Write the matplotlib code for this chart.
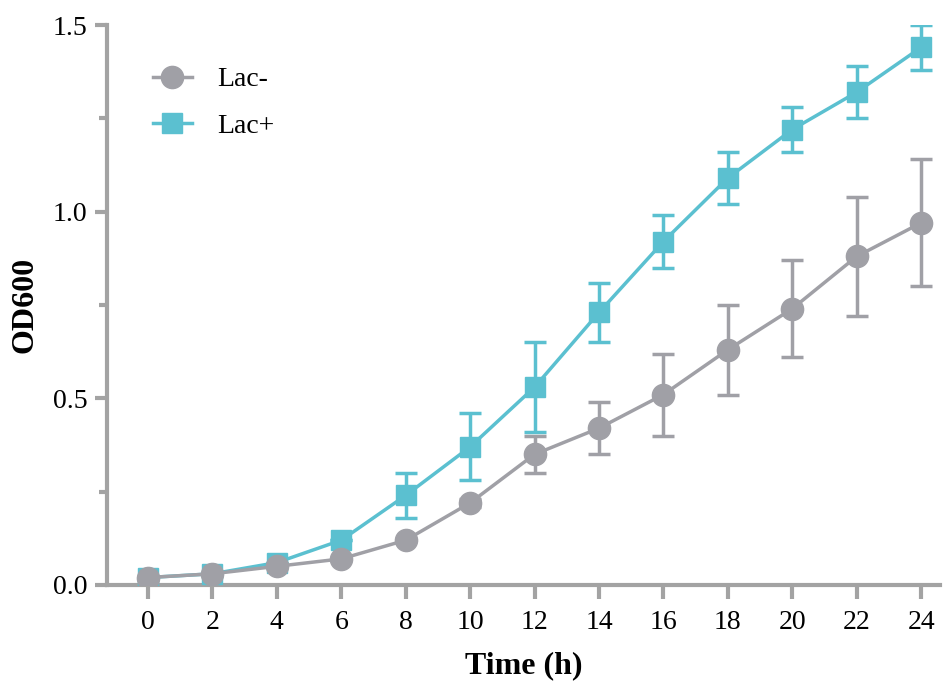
import numpy as np
import matplotlib.pyplot as plt
from matplotlib.lines import Line2D
from matplotlib.ticker import MultipleLocator

# growth curve data, OD600 vs time
time_h = [0, 2, 4, 6, 8, 10, 12, 14, 16, 18, 20, 22, 24]
lac_minus = [0.02, 0.03, 0.05, 0.07, 0.12, 0.22, 0.35, 0.42, 0.51, 0.63, 0.74, 0.88, 0.97]
lac_minus_err = [0.0, 0.0, 0.0, 0.0, 0.0, 0.01, 0.05, 0.07, 0.11, 0.12, 0.13, 0.16, 0.17]
lac_plus = [0.02, 0.03, 0.06, 0.12, 0.24, 0.37, 0.53, 0.73, 0.92, 1.09, 1.22, 1.32, 1.44]
lac_plus_err = [0.0, 0.0, 0.0, 0.0, 0.06, 0.09, 0.12, 0.08, 0.07, 0.07, 0.06, 0.07, 0.06]

gray = '#a0a0a6'
cyan = '#5bc0d0'
axis_gray = '#a3a3a3'

plt.rcParams['font.family'] = ['Liberation Serif', 'DejaVu Serif']

fig = plt.figure(figsize=(9.48, 6.85), dpi=100)
ax = fig.add_axes([0.113, 0.146, 0.879, 0.8175])

ax.errorbar(time_h, lac_plus, yerr=lac_plus_err, color=cyan, lw=2.5,
            marker='s', markersize=15, capsize=8, elinewidth=2.5,
            capthick=2.5, zorder=3)
ax.errorbar(time_h, lac_minus, yerr=lac_minus_err, color=gray, lw=2.5,
            marker='o', markersize=16, capsize=8, elinewidth=2.5,
            capthick=2.5, zorder=4)

ax.set_xlim(-1.27, 24.6)
ax.set_ylim(0, 1.5)
ax.set_xticks(time_h)
ax.yaxis.set_major_locator(MultipleLocator(0.5))
ax.yaxis.set_minor_locator(MultipleLocator(0.25))
ax.yaxis.set_major_formatter(plt.FormatStrFormatter('%.1f'))

for side in ['top', 'right']:
    ax.spines[side].set_visible(False)
for side in ['left', 'bottom']:
    ax.spines[side].set_color(axis_gray)
    ax.spines[side].set_linewidth(3)

ax.tick_params(axis='both', which='major', color=axis_gray, width=3, length=9,
               labelsize=20, pad=5)
ax.tick_params(axis='y', which='minor', color=axis_gray, width=3, length=6)
ax.tick_params(axis='x', length=10, pad=8)

ax.set_xlabel('Time (h)', fontsize=23, fontweight='bold', labelpad=12)
ax.set_ylabel('OD600', fontsize=23, fontweight='bold', labelpad=10)

handles = [
    Line2D([], [], color=gray, lw=2.5, marker='o', markersize=16),
    Line2D([], [], color=cyan, lw=2.5, marker='s', markersize=15),
]
ax.legend(handles, ['Lac-', 'Lac+'], loc='upper left', frameon=False,
          fontsize=20, bbox_to_anchor=(0.025, 0.97), handlelength=1.4,
          handletextpad=0.9, labelspacing=0.75)

fig.savefig('out.png', dpi=100)
